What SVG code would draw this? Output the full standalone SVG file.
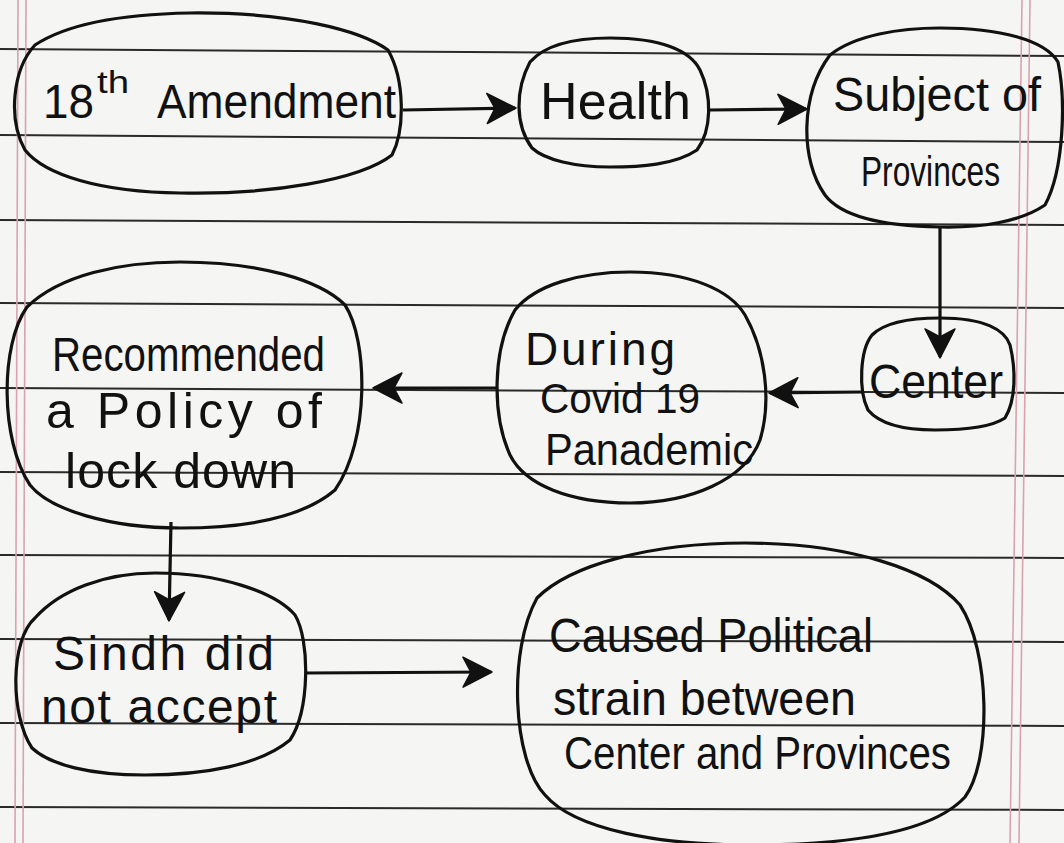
<svg xmlns="http://www.w3.org/2000/svg" width="1064" height="843" viewBox="0 0 1064 843">
<defs>
<marker id="ah" markerUnits="userSpaceOnUse" markerWidth="34" markerHeight="36" refX="30" refY="18" orient="auto">
<path d="M2,3 L31,18 L2,33 L10,18 Z" fill="#111" stroke="#111" stroke-width="1.5" stroke-linejoin="round"/>
</marker>
</defs>
<style>
.paper{fill:#f5f5f3}
.rule{stroke:#2a2a2a;stroke-width:2;fill:none}
.margin{stroke:#d8a3ad;stroke-width:1.6;fill:none}
.blob{fill:none;stroke:#111;stroke-width:3.2;stroke-linejoin:round}
.conn{fill:none;stroke:#111;stroke-width:3.2}
text{font-family:"Liberation Sans",Arial,sans-serif;fill:#111;font-size:48px}
</style>
<rect class="paper" x="0" y="0" width="1064" height="843"/>
<g id="paper-lines">
<line class="rule" x1="0" y1="49" x2="1064" y2="56"/>
<line class="rule" x1="0" y1="135" x2="1064" y2="142"/>
<line class="rule" x1="0" y1="220" x2="1064" y2="225"/>
<line class="rule" x1="0" y1="303" x2="1064" y2="308"/>
<line class="rule" x1="0" y1="388" x2="1064" y2="393"/>
<line class="rule" x1="0" y1="472" x2="1064" y2="476"/>
<line class="rule" x1="0" y1="555" x2="1064" y2="558"/>
<line class="rule" x1="0" y1="639" x2="1064" y2="642"/>
<line class="rule" x1="0" y1="723" x2="1064" y2="726"/>
<line class="rule" x1="0" y1="807" x2="1064" y2="810"/>
<line class="margin" x1="18" y1="0" x2="15" y2="843"/>
<line class="margin" x1="26" y1="0" x2="23" y2="843"/>
<line class="margin" x1="1022" y1="0" x2="1010" y2="843"/>
<line class="margin" x1="1030" y1="0" x2="1019" y2="843"/>
</g>
<g id="connectors">
<path class="conn" d="M403,110 L515,108" marker-end="url(#ah)"/>
<path class="conn" d="M710,110 L806,109" marker-end="url(#ah)"/>
<path class="conn" d="M940,227 L940,357" marker-end="url(#ah)"/>
<path class="conn" d="M862,392 L770,393" marker-end="url(#ah)"/>
<path class="conn" d="M496,388 L374,388" marker-end="url(#ah)"/>
<path class="conn" d="M171,522 L169,620" marker-end="url(#ah)"/>
<path class="conn" d="M306,673 L491,672" marker-end="url(#ah)"/>
</g>
<g id="n-amendment">
<path class="blob" d="M190,13 C290,12 360,30 388,50 C405,80 405,130 392,155 C360,180 270,195 180,193 C100,192 45,175 25,150 C8,120 12,70 35,45 C70,22 130,14 190,13 Z"/>
<text x="43" y="118" textLength="51" lengthAdjust="spacingAndGlyphs">18</text>
<text x="97" y="93" style="font-size:32px" textLength="32" lengthAdjust="spacingAndGlyphs">th</text>
<text x="157" y="118" textLength="239" lengthAdjust="spacingAndGlyphs">Amendment</text>
</g>
<g id="n-health">
<path class="blob" d="M610,38 C660,38 690,50 700,70 C712,95 712,130 697,150 C675,165 640,167 610,167 C575,167 545,160 532,148 C515,125 515,90 530,62 C545,45 575,38 610,38 Z"/>
<text x="540" y="119" style="font-size:52px" textLength="151">Health</text>
</g>
<g id="n-subject">
<path class="blob" d="M940,28 C1000,28 1045,40 1058,62 C1066,100 1064,170 1045,205 C1020,222 980,228 940,227 C880,226 840,215 825,195 C800,160 800,95 830,55 C855,35 900,28 940,28 Z"/>
<text x="833" y="111" textLength="208" lengthAdjust="spacingAndGlyphs">Subject of</text>
<text x="861" y="186" style="font-size:42px" textLength="139" lengthAdjust="spacingAndGlyphs">Provinces</text>
</g>
<g id="n-center">
<path class="blob" d="M940,318 C985,318 1005,330 1010,345 C1016,370 1016,400 1005,418 C990,428 960,430 935,430 C900,430 878,422 868,410 C858,390 860,350 872,335 C885,322 910,318 940,318 Z"/>
<text x="869" y="398" textLength="134" lengthAdjust="spacingAndGlyphs">Center</text>
</g>
<g id="n-during">
<path class="blob" d="M630,272 C690,272 730,290 745,315 C765,350 772,400 760,440 C745,480 690,503 630,503 C570,503 525,485 510,455 C492,415 492,350 515,310 C535,285 580,272 630,272 Z"/>
<text x="525" y="365" style="font-size:46px" textLength="150">During</text>
<text x="540" y="413" style="font-size:43px" textLength="160" lengthAdjust="spacingAndGlyphs">Covid 19</text>
<text x="545" y="465" style="font-size:44px" textLength="208" lengthAdjust="spacingAndGlyphs">Panademic</text>
</g>
<g id="n-recommended">
<path class="blob" d="M180,262 C260,262 320,280 345,305 C368,340 370,440 335,490 C300,520 240,528 180,528 C110,528 50,510 30,485 C0,440 0,345 27,307 C60,275 120,262 180,262 Z"/>
<text x="52" y="371" textLength="273" lengthAdjust="spacingAndGlyphs">Recommended</text>
<text x="46" y="428" style="font-size:50px" textLength="276">a Policy of</text>
<text x="65" y="488" style="font-size:50px" textLength="231">lock down</text>
</g>
<g id="n-sindh">
<path class="blob" d="M155,573 C220,573 275,592 295,615 C310,640 310,710 290,740 C260,765 205,775 145,775 C90,775 50,765 32,748 C10,715 10,640 35,618 C60,590 105,573 155,573 Z"/>
<text x="53" y="670" style="font-size:48px" textLength="221">Sindh did</text>
<text x="41" y="723" style="font-size:48px" textLength="236">not accept</text>
</g>
<g id="n-caused">
<path class="blob" d="M745,543 C850,543 930,570 960,605 C990,650 992,760 965,797 C930,835 840,845 750,845 C660,845 575,830 545,795 C512,760 508,650 537,598 C570,565 650,543 745,543 Z"/>
<text x="549" y="652" textLength="324" lengthAdjust="spacingAndGlyphs">Caused Political</text>
<text x="553" y="715" textLength="303" lengthAdjust="spacingAndGlyphs">strain between</text>
<text x="564" y="769" style="font-size:46px" textLength="387" lengthAdjust="spacingAndGlyphs">Center and Provinces</text>
</g>
</svg>
